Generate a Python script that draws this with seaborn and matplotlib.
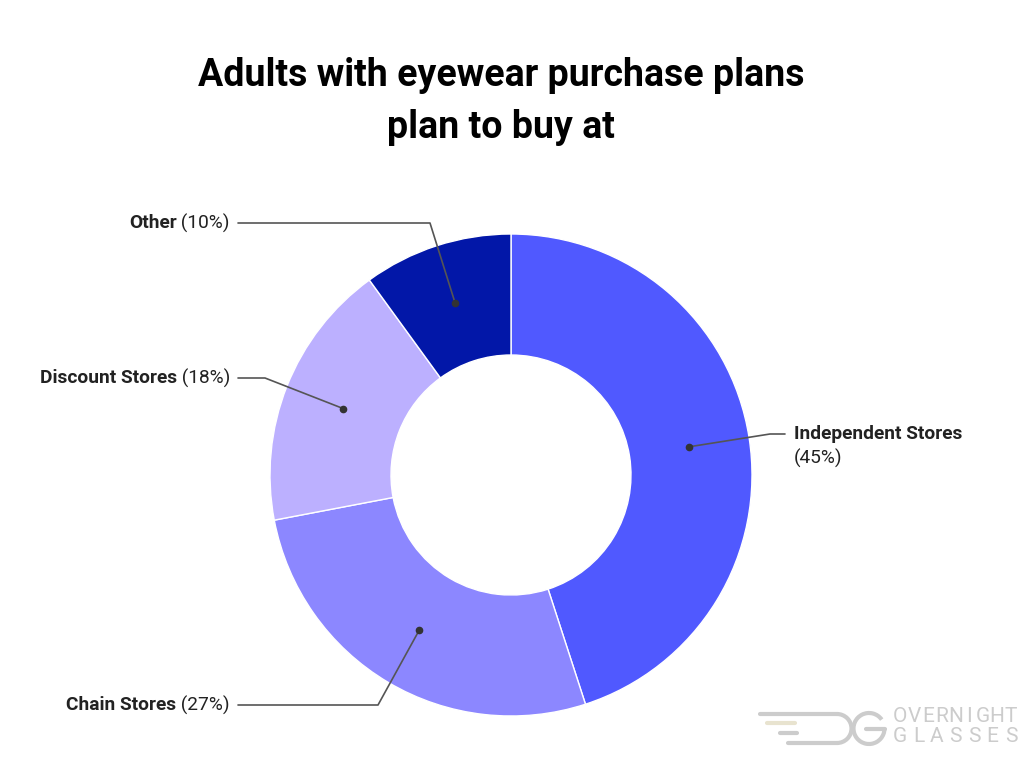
import numpy as np
import matplotlib
matplotlib.use("Agg")
import matplotlib.pyplot as plt
from matplotlib.patches import Arc
import seaborn as sns

categories = ["Independent Stores", "Chain Stores", "Discount Stores", "Other"]
shares = [45, 27, 18, 10]
colors = ["#5059ff", "#8c87ff", "#bcb0ff", "#0217a8"]

sns.set_theme(style="white")
plt.rcParams["font.family"] = ["Roboto", "DejaVu Sans"]

W, H = 1024, 768
fig = plt.figure(figsize=(W / 100, H / 100), dpi=100)
ax = fig.add_axes([0, 0, 1, 1])

cx, cy = 511, H - 475
R, r_in = 241, 120
wedges, _ = ax.pie(shares, colors=colors, startangle=90, counterclock=False,
                   center=(cx, cy), radius=R, frame=True,
                   wedgeprops=dict(width=R - r_in, edgecolor="white", linewidth=1))
ax.set_xlim(0, W)
ax.set_ylim(0, H)
ax.set_aspect("equal")
ax.axis("off")

ax.text(501, H - 75, "Adults with eyewear purchase plans", ha="center", va="center",
        fontsize=27, fontweight="bold", color="black")
ax.text(501, H - 127, "plan to buy at", ha="center", va="center",
        fontsize=27, fontweight="bold", color="black")

# elbow / text positions (pixels, top-origin)
elbows = {
    "Independent Stores": [(770, 434), (785, 434)],
    "Chain Stores": [(378, 705), (238, 705)],
    "Discount Stores": [(265, 378), (238, 378)],
    "Other": [(430, 223), (238, 223)],
}

fig.canvas.draw()
renderer = fig.canvas.get_renderer()
txt_color = "#222222"
line_color = "#555555"
fs = 13.8
r_mid = (R + r_in) / 2
for w, cat, s in zip(wedges, categories, shares):
    ang = np.deg2rad((w.theta1 + w.theta2) / 2)
    px, py = cx + r_mid * np.cos(ang), cy + r_mid * np.sin(ang)
    pts = [(px, py)] + [(x, H - y) for x, y in elbows[cat]]
    ax.plot([p[0] for p in pts], [p[1] for p in pts], color=line_color, lw=1.2)
    ax.plot(px, py, "o", color="#333333", ms=4.5)
    ex, ey = pts[-1]
    if cat == "Independent Stores":
        ax.text(ex + 9, ey, cat, ha="left", va="center", fontsize=fs,
                fontweight="bold", color=txt_color)
        ax.text(ex + 9, ey - 24, f"({s}%)", ha="left", va="center", fontsize=fs,
                color=txt_color)
    else:
        t = ax.text(ex - 8, ey, f" ({s}%)", ha="right", va="center", fontsize=fs,
                    color=txt_color)
        bb = t.get_window_extent(renderer)
        x0 = ax.transData.inverted().transform((bb.x0, bb.y0))[0]
        ax.text(x0, ey, cat, ha="right", va="center", fontsize=fs,
                fontweight="bold", color=txt_color)

# watermark: letters spread to the same width on both lines
logo = "#cccccc"
for word, y in [("OVERNIGHT", 716), ("GLASSES", 737)]:
    xs = np.linspace(900, 1011, len(word))
    for ch, x in zip(word, xs):
        ax.text(x, H - y, ch, ha="center", va="center", fontsize=15, color=logo)
lw = 3
for x0, x1, y, c in [(760, 837, 714, logo), (767, 795, 723, "#e8e3cf"),
                     (780, 797, 733, logo), (788, 837, 743, logo)]:
    ax.plot([x0, x1], [H - y, H - y], color=c, lw=lw, solid_capstyle="round")
ax.add_patch(Arc((837, H - 728.5), 29, 29, theta1=-90, theta2=90, color=logo, lw=lw))
ax.add_patch(Arc((869, H - 728.5), 31, 31, theta1=35, theta2=360, color=logo, lw=lw))
ax.plot([866, 884.5], [H - 728.5, H - 728.5], color=logo, lw=lw, solid_capstyle="round")

fig.savefig("out.png", dpi=100, facecolor="white")
